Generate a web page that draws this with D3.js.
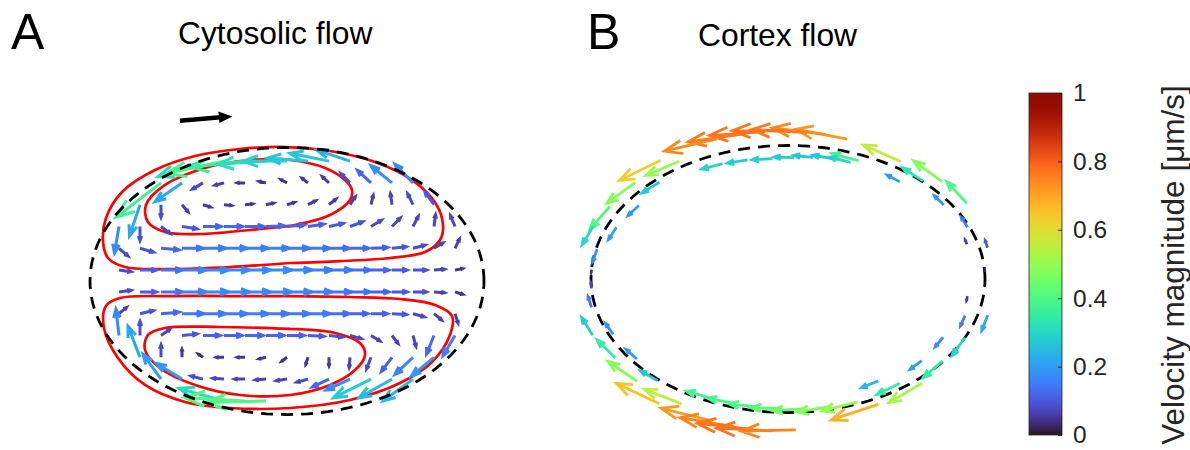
<!DOCTYPE html>
<html>
<head>
<meta charset="utf-8">
<script src="https://cdn.jsdelivr.net/npm/d3@7"></script>
<style>
body { margin: 0; background: #fff; }
svg { display: block; font-family: "Liberation Sans", Arial, sans-serif; }
</style>
</head>
<body>
<svg id="chart" width="1190" height="450"></svg>
<script>
var n = null;

// cell outline (semi axes, um)
var cellA = 18.76, cellB = 12.25;

// cytosolic quiver grid (um)
var gridX = [-18, -16, -14, -12, -10, -8, -6, -4, -2, 0, 2, 4, 6, 8, 10, 12, 14, 16, 18];
var gridY = [11, 9, 7, 5, 3, 1, -1, -3, -5, -7, -9, -11];

// velocity components (um/s), one row per gridY
var cytoU = [
  [n, n, n, n, n, -.30, -.38, -.36, -.32, -.29, -.27, -.26, -.22, n, n, n, n, n, n],
  [n, n, n, -.30, -.18, -.07, -.06, -.05, -.045, -.04, -.04, -.045, -.06, -.09, -.14, -.12, n, n, n],
  [n, n, -.07, 0, .04, .05, .05, .05, .05, .05, .05, .045, .035, .015, -.01, -.035, -.06, n, n],
  [n, -.03, 0, .06, .10, .12, .125, .125, .12, .115, .105, .095, .085, .07, .055, .035, .01, -.03, n],
  [n, .06, .09, .12, .14, .15, .155, .155, .155, .15, .145, .135, .125, .11, .095, .08, .06, .03, n],
  [n, .08, .11, .14, .16, .17, .17, .17, .17, .165, .16, .15, .135, .12, .10, .09, .07, .05, n],
  [n, .08, .11, .14, .16, .17, .17, .17, .17, .165, .16, .15, .135, .12, .10, .09, .07, .05, n],
  [n, .05, .09, .12, .145, .15, .155, .155, .15, .15, .145, .135, .12, .11, .095, .075, .05, .02, n],
  [n, -.02, 0, .06, .10, .115, .12, .12, .12, .115, .105, .09, .075, .06, .04, .02, -.05, -.08, n],
  [n, n, -.08, 0, 0, -.03, -.05, -.05, -.045, -.035, -.015, 0, -.005, -.03, -.07, -.12, -.15, n, n],
  [n, n, n, -.12, -.17, -.08, -.075, -.07, -.07, -.07, -.075, -.11, -.16, -.25, -.22, -.20, n, n, n],
  [n, n, n, n, n, n, -.30, -.40, -.40, n, n, n, n, n, n, n, n, n, n]
];
var cytoV = [
  [n, n, n, n, n, -.10, -.08, -.04, -.02, 0, .02, .05, .07, n, n, n, n, n, n],
  [n, n, n, -.22, -.12, -.04, -.015, 0, .01, .02, .03, .04, .06, .08, .11, .12, n, n, n],
  [n, n, -.20, -.08, -.045, -.015, -.005, .005, .01, .015, .025, .035, .05, .06, .07, .07, .08, n, n],
  [n, -.17, -.09, -.045, -.015, 0, 0, 0, .005, .01, .015, .02, .03, .04, .055, .065, .075, .07, n],
  [n, -.05, -.025, -.01, 0, 0, 0, 0, 0, 0, 0, 0, 0, .005, .01, .02, .035, .06, n],
  [n, -.01, 0, 0, 0, 0, 0, 0, 0, 0, 0, 0, 0, 0, 0, 0, .005, .01, n],
  [n, .01, 0, 0, 0, 0, 0, 0, 0, 0, 0, 0, 0, 0, 0, 0, -.005, -.015, n],
  [n, .04, .02, .01, 0, 0, 0, 0, 0, 0, 0, 0, 0, 0, -.005, -.02, -.04, -.06, n],
  [n, .17, .09, .04, .01, 0, 0, 0, 0, 0, -.005, -.01, -.02, -.035, -.05, -.07, -.12, -.13, n],
  [n, n, .20, .08, .05, .02, 0, 0, -.01, -.025, -.045, -.055, -.065, -.075, -.09, -.11, -.12, n, n],
  [n, n, n, .16, .10, .02, .005, 0, -.005, -.01, -.02, -.05, -.07, -.12, -.12, -.14, n, n, n],
  [n, n, n, n, n, n, .08, .02, -.01, n, n, n, n, n, n, n, n, n, n]
];

// streamlines (um)
var streamTopOuter = [[0.29, 1.65], [5.05, 1.83], [9.81, 2.11], [13.14, 2.66], [14.57, 3.76], [14.86, 5.14], [14.19, 7.06], [11.9, 9.27], [8.38, 10.92], [4.1, 11.93], [-0.19, 12.29], [-4.48, 12.11], [-8.76, 11.47], [-12.57, 10.18], [-15.71, 8.17], [-17.24, 5.78], [-17.52, 3.58], [-17.05, 2.11], [-15.43, 1.28], [-11.14, 1.1], [-5.43, 1.28], [0.29, 1.65]];
var streamTopInner = [[0.29, 5.05], [4.1, 6.06], [6.0, 7.43], [6.19, 8.35], [5.52, 9.27], [3.62, 10.37], [0.29, 11.1], [-3.52, 11.1], [-7.81, 10.37], [-11.62, 8.81], [-13.43, 6.97], [-13.24, 5.41], [-11.62, 4.5], [-8.29, 4.31], [-3.52, 4.68], [0.29, 5.05]];
var streamBottomOuter = [[0.29, -1.38], [6.0, -1.47], [10.76, -1.65], [14.1, -2.2], [15.71, -3.21], [15.52, -4.95], [13.81, -7.43], [10.76, -9.36], [6.0, -10.92], [0.29, -11.65], [-5.43, -11.65], [-9.71, -11.1], [-13.52, -9.54], [-16.1, -7.06], [-17.43, -4.31], [-17.24, -2.29], [-15.9, -1.56], [-11.14, -1.38], [-5.43, -1.38], [0.29, -1.38]];
var streamBottomInner = [[0.29, -4.4], [4.57, -4.77], [6.95, -5.69], [7.43, -6.79], [6.48, -8.17], [4.1, -9.54], [0.29, -10.46], [-4.48, -10.46], [-8.76, -9.54], [-12.1, -7.98], [-13.52, -6.33], [-13.24, -4.95], [-11.62, -4.31], [-6.38, -4.22], [0.29, -4.4]];

// cortex flow samples: angle on the outline (deg), radius relative to outline, signed speed (um/s, + = counter-clockwise)
var cortexAngle = [
  13, 32, 43, 57, 74, 80, 85, 90, 96, 102, 109, 126, 137, 149, 158,
  3, 23, 47, 68, 122, 167, 176,
  16, 35, 52, 70, 76, 82, 88, 95, 103, 111, 132, 144, 156,
  203, 214, 225, 235, 240, 250, 256, 261, 266, 272, 296, 311, 345,
  184, 192, 229, 247, 254, 261, 268, 275, 283, 291, 306, 322, 334,
  205, 218, 301, 318, 331, 343, 352
];
var cortexRadius = [
  1.04, 1.07, 1.07, 1.05, 1.09, 1.10, 1.10, 1.11, 1.11, 1.11, 1.11, 1.10, 1.06, 1.055, 1.065,
  1.0, 0.99, 1.005, 0.955, 1.04, 0.995, 1.0,
  0.945, 0.966, 0.923, 0.93, 0.93, 0.92, 0.91, 0.905, 0.915, 0.926, 0.975, 0.936, 0.953,
  1.077, 1.058, 1.083, 1.14, 1.08, 1.13, 1.14, 1.14, 1.14, 1.13, 1.045, 1.035, 1.05,
  1.0, 1.02, 1.01, 0.975, 0.97, 0.97, 0.97, 0.975, 0.98, 0.985, 0.965, 0.996, 1.0,
  0.98, 0.973, 0.89, 0.914, 0.9, 0.94, 0.92
];
var cortexSpeed = [
  .10, .40, .48, .56, .72, .74, .76, .77, .77, .76, .74, .63, .48, .40, .30,
  .02, .16, .33, .38, .50, .18, .04,
  .06, .18, .20, .30, .27, .27, .28, .28, .28, .30, .28, .20, .20,
  -.28, -.35, -.48, -.65, -.55, -.72, -.75, -.77, -.77, -.75, -.68, -.52, -.22,
  -.07, -.15, -.27, -.38, -.39, -.40, -.42, -.45, -.48, -.50, -.35, -.35, -.30,
  -.18, -.20, -.25, -.20, -.17, -.15, -.06
];

var colorTicks = [0, 0.2, 0.4, 0.6, 0.8, 1];

var svg = d3.select("#chart");

var xA = d3.scaleLinear().domain([-20, 20]).range([77, 497]);
var yA = d3.scaleLinear().domain([-13, 13]).range([422.7, 139.3]);
var xB = d3.scaleLinear().domain([-20, 20]).range([578, 998]);
var yB = d3.scaleLinear().domain([-13, 13]).range([420.7, 137.3]);
var color = d3.scaleSequential(d3.interpolateTurbo).domain([0, 1]);

var quiverScaleA = 14.3;   // um per (um/s)
var quiverScaleB = 6.9;

// matlab style arrow: shaft + open head
function arrowPath(x0, y0, x1, y1) {
  var dx = x1 - x0, dy = y1 - y0;
  var a = 0.33, b = 0.38;
  var h1x = x1 - a * (dx + b * dy), h1y = y1 - a * (dy - b * dx);
  var h2x = x1 - a * (dx - b * dy), h2y = y1 - a * (dy + b * dx);
  return "M" + x0 + "," + y0 + "L" + x1 + "," + y1 +
         "M" + h1x + "," + h1y + "L" + x1 + "," + y1 + "L" + h2x + "," + h2y;
}

function outline(xs, ys) {
  var pts = d3.range(0, 361, 2).map(function (t) {
    var r = t * Math.PI / 180;
    return [xs(cellA * Math.cos(r)), ys(cellB * Math.sin(r))];
  });
  return d3.line()(pts);
}

// ---------- panel A ----------
var arrowsA = [];
gridY.forEach(function (gy, i) {
  gridX.forEach(function (gx, j) {
    var u = cytoU[i][j], v = cytoV[i][j];
    if (u === null || v === null) return;
    arrowsA.push({ x: gx, y: gy, u: u, v: v, m: Math.sqrt(u * u + v * v) });
  });
});

var gA = svg.append("g");

var streamLine = d3.line()
  .x(function (d) { return xA(d[0]); })
  .y(function (d) { return yA(d[1]); })
  .curve(d3.curveCatmullRom);

gA.selectAll("path.stream")
  .data([streamTopOuter, streamTopInner, streamBottomOuter, streamBottomInner])
  .enter()
  .append("path")
  .attr("class", "stream")
  .attr("d", streamLine)
  .attr("fill", "none")
  .attr("stroke", "#ff0000")
  .attr("stroke-width", 2.7);

gA.selectAll("path.q")
  .data(arrowsA)
  .enter()
  .append("path")
  .attr("class", "q")
  .attr("d", function (d) {
    return arrowPath(xA(d.x), yA(d.y), xA(d.x + d.u * quiverScaleA), yA(d.y + d.v * quiverScaleA));
  })
  .attr("fill", "none")
  .attr("stroke", function (d) { return color(d.m); })
  .attr("stroke-width", 3)
  .attr("stroke-linejoin", "miter");

gA.append("path")
  .attr("d", outline(xA, yA))
  .attr("fill", "none")
  .attr("stroke", "#000")
  .attr("stroke-width", 2.8)
  .attr("stroke-dasharray", "12,8");

// direction of cell motion
var mx0 = xA(-10.2), my0 = yA(14.7), mx1 = xA(-5.2), my1 = yA(15.1);
gA.append("line")
  .attr("x1", mx0).attr("y1", my0)
  .attr("x2", mx1 - 9).attr("y2", my1 + 0.7)
  .attr("stroke", "#000")
  .attr("stroke-width", 4.5);
gA.append("path")
  .attr("d", "M" + mx1 + "," + my1 + "L" + (mx1 - 14) + "," + (my1 - 5) + "L" + (mx1 - 13) + "," + (my1 + 6.5) + "Z")
  .attr("fill", "#000");

svg.append("text").attr("x", 11).attr("y", 49).attr("font-size", 50).text("A");
svg.append("text").attr("x", 178).attr("y", 44).attr("font-size", 31.8).text("Cytosolic flow");

// ---------- panel B ----------
var arrowsB = cortexAngle.map(function (deg, i) {
  var t = deg * Math.PI / 180, r = cortexRadius[i], s = cortexSpeed[i];
  var px = cellA * r * Math.cos(t), py = cellB * r * Math.sin(t);
  var tx = -cellA * Math.sin(t), ty = cellB * Math.cos(t);
  var tl = Math.sqrt(tx * tx + ty * ty);
  return { x: px, y: py, u: s * tx / tl, v: s * ty / tl, m: Math.abs(s) };
});

var gB = svg.append("g");

gB.append("path")
  .attr("d", outline(xB, yB))
  .attr("fill", "none")
  .attr("stroke", "#000")
  .attr("stroke-width", 2.8)
  .attr("stroke-dasharray", "12,8");

gB.selectAll("path.q")
  .data(arrowsB)
  .enter()
  .append("path")
  .attr("class", "q")
  .attr("d", function (d) {
    return arrowPath(xB(d.x), yB(d.y), xB(d.x + d.u * quiverScaleB), yB(d.y + d.v * quiverScaleB));
  })
  .attr("fill", "none")
  .attr("stroke", function (d) { return color(d.m); })
  .attr("stroke-width", 2.8);

svg.append("text").attr("x", 587).attr("y", 49).attr("font-size", 50).text("B");
svg.append("text").attr("x", 698).attr("y", 46).attr("font-size", 31.8).text("Cortex flow");

// ---------- colorbar ----------
var defs = svg.append("defs");
var grad = defs.append("linearGradient")
  .attr("id", "turbo")
  .attr("x1", "0").attr("y1", "1").attr("x2", "0").attr("y2", "0");
d3.range(0, 1.0001, 0.02).forEach(function (t) {
  grad.append("stop").attr("offset", t).attr("stop-color", color(t));
});

var cScale = d3.scaleLinear().domain([0, 1]).range([435, 93]);
var cbX = 1029, cbW = 33;

svg.append("rect")
  .attr("x", cbX).attr("y", cScale(1))
  .attr("width", cbW).attr("height", cScale(0) - cScale(1))
  .attr("fill", "url(#turbo)")
  .attr("stroke", "#262626")
  .attr("stroke-width", 0.8);

var cAxis = svg.append("g")
  .attr("transform", "translate(" + (cbX + cbW) + ",0)")
  .call(d3.axisRight(cScale).tickValues(colorTicks).tickSize(-4).tickPadding(11).tickFormat(d3.format("~g")));
cAxis.select(".domain").remove();
cAxis.selectAll("line").attr("stroke", "#262626");
cAxis.selectAll("text")
  .attr("font-size", 24.5)
  .attr("fill", "#262626")
  .attr("font-family", "Liberation Sans, Arial, sans-serif");

svg.append("text")
  .attr("transform", "translate(1184," + ((cScale(0) + cScale(1)) / 2 + 1) + ") rotate(-90)")
  .attr("text-anchor", "middle")
  .attr("font-size", 31.5)
  .attr("fill", "#262626")
  .text("Velocity magnitude [μm/s]");
</script>
</body>
</html>
